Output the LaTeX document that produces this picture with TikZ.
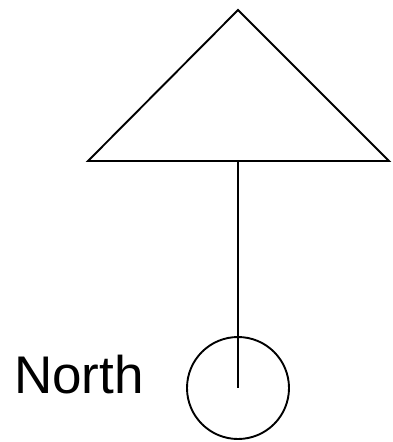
\documentclass[tikz,border=0pt]{standalone}
\usepackage{fontspec}
\setmainfont{Liberation Sans}
\usetikzlibrary{calc}
\tikzset{
    outline/.style={draw=black, line width=1.9pt, line join=miter},
    knob/.style={outline, circle, minimum size=102pt, inner sep=0pt},
    caption/.style={font=\fontsize{53}{60}\selectfont, inner sep=0pt, anchor=base west}
}
\begin{document}
\begin{tikzpicture}[x=1pt, y=-1pt]
\useasboundingbox (0,0) rectangle (392,442);

% Triangle
\coordinate (apex) at (238,10);
\coordinate (baseL) at (88,161);
\coordinate (baseR) at (389,161);
\coordinate (baseM) at (238,161);
\draw[outline] (apex) -- (baseR) -- (baseL) -- cycle;

% Circle and label
\node[knob] (pole) at (238,388) {};
\node[caption] (north) at (14,393) {North};

% Stem
\draw[outline] (baseM) -- (pole.center);
\end{tikzpicture}
\end{document}
